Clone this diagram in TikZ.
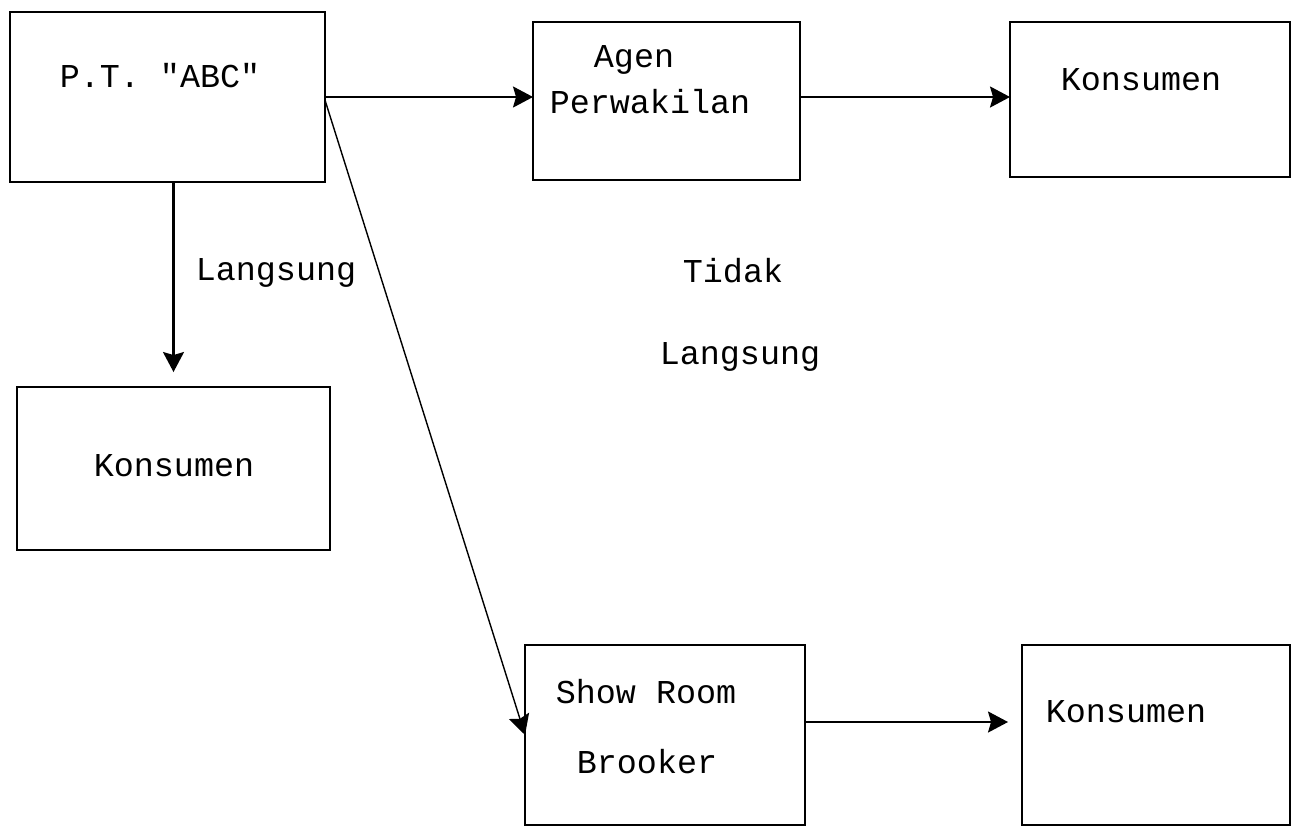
\documentclass[tikz,border=0pt]{standalone}
\usepackage{fontspec}
\setmonofont{Liberation Mono}
\usetikzlibrary{arrows.meta,calc}
\begin{document}
\begin{tikzpicture}[x=0.02cm,y=-0.02cm,
  box/.style={draw,line width=1.5pt,inner sep=0pt,outer sep=0pt,rectangle},
  txt/.style={font=\ttfamily\fontsize{19}{22}\selectfont,inner sep=0pt},
  conn/.style={line width=1.2pt,-{Stealth[length=0.4cm,width=0.42cm,inset=0.06cm]}},
  thin/.style={line width=0.8pt,-{Stealth[length=0.4cm,width=0.42cm,inset=0.06cm]}}]
\useasboundingbox (0,0) rectangle (1298,829);
% boxes
\node[box,minimum width=6.3cm,minimum height=3.4cm] (pt) at (167.5,97) {};
\node[box,minimum width=5.34cm,minimum height=3.16cm] (agen) at (666.5,101) {};
\node[box,minimum width=5.6cm,minimum height=3.1cm] (k1) at (1150,99.5) {};
\node[box,minimum width=6.26cm,minimum height=3.26cm] (k2) at (173.5,468.5) {};
\node[box,minimum width=5.6cm,minimum height=3.6cm] (sr) at (665,735) {};
\node[box,minimum width=5.36cm,minimum height=3.6cm] (k3) at (1156,735) {};
% texts
\node[txt] (tpt) at (160,76) {P.T. "ABC"};
\node[txt] (tagen1) at (634,60) {Agen};
\node[txt] (tagen2) at (650,102) {Perwakilan};
\node[txt] (tk1) at (1141,80) {Konsumen};
\node[txt] (tk2) at (174,466) {Konsumen};
\node[txt] (tsr1) at (646,692) {Show Room};
\node[txt] (tsr2) at (647,762) {Brooker};
\node[txt] (tk3) at (1126,712) {Konsumen};
\node[txt] (tl1) at (276,273) {Langsung};
\node[txt] (tl2) at (733,271) {Tidak};
\node[txt] (tl3) at (740,357) {Langsung};
% connectors
\draw[conn] (pt.east) -- (pt.east -| agen.west);
\draw[conn] ([yshift=0.08cm]agen.east) -- ([yshift=0.08cm]agen.east -| k1.west);
\draw[conn,shorten >=0.3cm] (pt.south -| k2.north) -- (k2.north);
\draw[thin] ([yshift=-0.06cm]pt.east) -- (sr.west);
\draw[conn,shorten >=0.28cm] ([yshift=0.26cm]sr.east) -- ([yshift=0.26cm]sr.east -| k3.west);
\end{tikzpicture}
\end{document}
